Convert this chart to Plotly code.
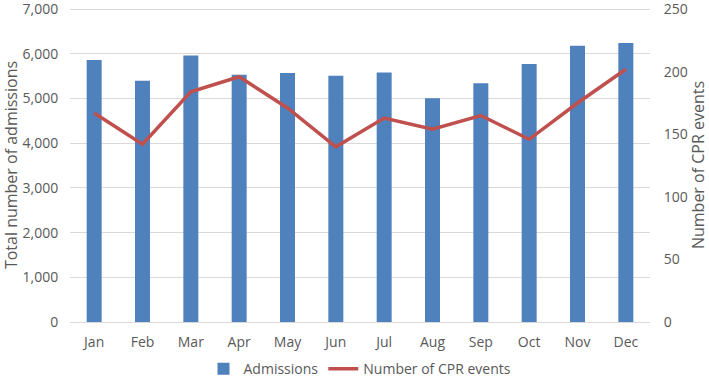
import plotly.graph_objects as go

months = ["Jan", "Feb", "Mar", "Apr", "May", "Jun", "Jul", "Aug", "Sep", "Oct", "Nov", "Dec"]
admissions = [5860, 5400, 5960, 5530, 5570, 5510, 5580, 5005, 5340, 5770, 6180, 6240]
cpr_events = [167, 142, 184, 196, 171, 140, 163, 154, 165, 146, 175, 202]

grey = "#595959"
fnt = "Open Sans, Liberation Sans, sans-serif"

fig = go.Figure()
fig.add_trace(go.Bar(x=months, y=admissions, name="Admissions",
                     marker=dict(color="#4f81bd", line=dict(width=0))))
fig.add_trace(go.Scatter(x=months, y=cpr_events, name="Number of CPR events", yaxis="y2",
                         mode="lines", line=dict(color="#c0504d", width=3.5)))

fig.update_layout(
    width=709, height=381,
    margin=dict(l=70, r=59, t=8, b=59, autoexpand=False),
    paper_bgcolor="white", plot_bgcolor="white",
    font=dict(family=fnt, color=grey, size=13),
    bargap=0.69,
    xaxis=dict(showgrid=False, showline=True, linecolor="#d9d9d9", linewidth=1,
               ticks="outside", ticklen=7, tickcolor="rgba(0,0,0,0)",
               tickfont=dict(size=14, color=grey), automargin=False),
    yaxis=dict(range=[0, 7025], tickvals=[0, 1000, 2000, 3000, 4000, 5000, 6000, 7000],
               tickformat=",", showgrid=True, ticklabeloverflow="allow",
               gridcolor="#d9d9d9", gridwidth=1, zeroline=False, automargin=False,
               ticks="outside", ticklen=8, tickcolor="rgba(0,0,0,0)",
               title=dict(text="Total number of admissions", font=dict(size=16, color=grey), standoff=0),
               tickfont=dict(size=14, color=grey)),
    yaxis2=dict(range=[0, 250.9], tickvals=[0, 50, 100, 150, 200, 250], overlaying="y", side="right",
                showgrid=False, zeroline=False, automargin=False, ticklabeloverflow="allow",
                ticks="outside", ticklen=10, tickcolor="rgba(0,0,0,0)",
                title=dict(text="Number of CPR events", font=dict(size=16, color=grey), standoff=6),
                tickfont=dict(size=14, color=grey)),
    legend=dict(orientation="h", x=0.5, xanchor="center", y=-0.15, yanchor="middle",
                font=dict(size=14, color=grey), traceorder="normal"),
    showlegend=True,
)

fig.write_html("out.html", config={"displayModeBar": False},
               post_script="document.body.style.margin='0';document.body.style.overflow='hidden';")
